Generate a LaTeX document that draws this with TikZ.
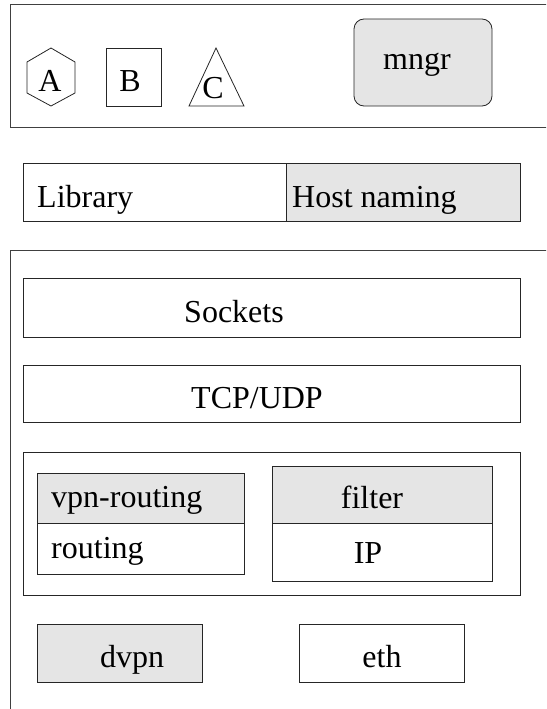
\documentclass[tikz,border=0pt]{standalone}
\usepackage{fontspec}
\setmainfont{Liberation Serif}
\begin{document}
\begin{tikzpicture}[x=1pt, y=-1pt,
  frame/.style={draw=black!75, line width=0.8pt},
  box/.style={draw=black!85, line width=0.8pt},
  shaded/.style={fill=black!10},
  lbl/.style={font=\fontsize{32}{38}\selectfont, anchor=base, inner sep=0pt},
  lbll/.style={lbl, anchor=base west}]
\useasboundingbox (0,0) rectangle (546,709);
\clip (0,0) rectangle (546,709);

% top panel: shapes and manager
\draw[frame] (560,4) -- (10,4) -- (10,127) -- (560,127);
\draw[box] (51,48) -- (75,62) -- (75,93) -- (51,106) -- (27,93) -- (27,62) -- cycle;
\node[lbl] (a) at (50,92) {A};
\draw[box] (106,48) rectangle (161,106);
\node[lbl] (b) at (130,92) {B};
\draw[box] (216,48) -- (244,106) -- (189,106) -- cycle;
\node[lbl] (c) at (213,98) {C};
\draw[box, shaded, rounded corners=10pt] (354,19) rectangle (492,106);
\node[lbl] (mngr) at (417,70) {mngr};

% library row
\draw[box] (23,163) rectangle (286,221);
\draw[box, shaded] (286,163) rectangle (520,221);
\node[lbll] (library) at (37,207) {Library};
\node[lbll] (hostnaming) at (292,207) {Host naming};

% protocol stack panel
\draw[frame] (560,250) -- (10,250) -- (10,720);
\draw[box] (23,278) rectangle (520,337);
\node[lbl] (sockets) at (234,322) {Sockets};
\draw[box] (23,365) rectangle (520,422);
\node[lbl] (tcpudp) at (257,408) {TCP/UDP};

\draw[box] (23,452) rectangle (520,595);
\draw[box, shaded] (37,473) rectangle (244,523);
\draw[box] (37,523) rectangle (244,574);
\node[lbll] (vpnrouting) at (51,507) {vpn-routing};
\node[lbll] (routing) at (51,558) {routing};
\draw[box, shaded] (272,466) rectangle (492,523);
\draw[box] (272,523) rectangle (492,581);
\node[lbl] (filter) at (372,508) {filter};
\node[lbl] (ip) at (368,563) {IP};

\draw[box, shaded] (37,624) rectangle (202,682);
\node[lbl] (dvpn) at (132,667) {dvpn};
\draw[box] (299,624) rectangle (464,682);
\node[lbl] (eth) at (382,667) {eth};
\end{tikzpicture}
\end{document}
